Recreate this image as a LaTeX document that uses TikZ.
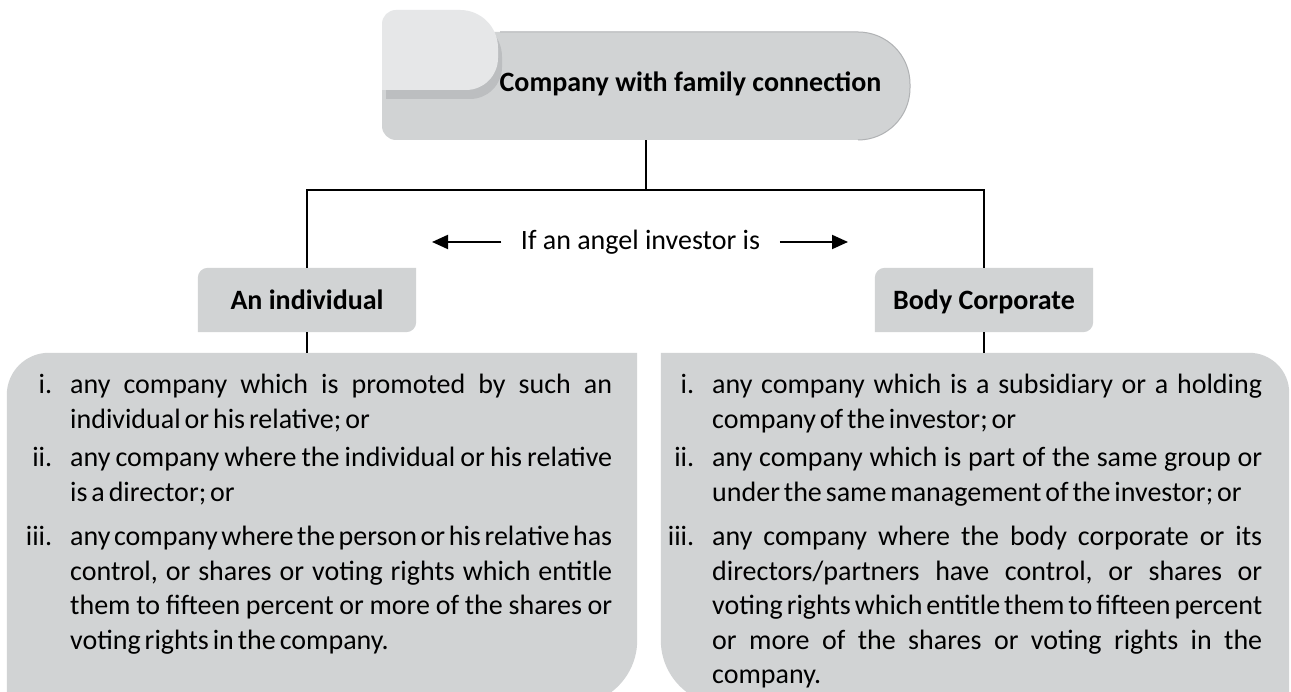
\documentclass[tikz,border=0pt]{standalone}
\usepackage{fontspec}
\setmainfont{Carlito}
\usetikzlibrary{arrows.meta}
\pgfdeclarelayer{background}
\pgfdeclarelayer{paper}
\pgfsetlayers{paper,background,main}
\definecolor{boxgray}{HTML}{D1D3D4}
\definecolor{eargray}{HTML}{E6E7E8}
\definecolor{shadowgray}{HTML}{BCBEC0}
\definecolor{edgegray}{HTML}{B0B2B4}
\frenchspacing
\newcommand{\fullln}[1]{\hbox to \hsize{\spaceskip=0.14em plus 3em minus 0.06em\relax #1}}
\newcommand{\lastln}[1]{\hbox{\spaceskip=0.14em\relax #1}}
\newcommand{\itm}[3]{\hbox{\hbox to 0pt{\hss #1\hskip 18pt}\vtop{\hsize=#2\relax\baselineskip=34.5pt\relax\lineskiplimit=-100pt\relax #3}}}
\tikzset{
  every node/.style={font=\fontsize{28pt}{34.5pt}\selectfont},
  conn/.style={line width=2pt, black},
  arr/.style={line width=2pt, black, -{Triangle[length=16pt,width=14pt]}},
  lblbox/.style={minimum width=218pt, minimum height=64pt, inner sep=0pt, text height=20pt, text depth=0pt, font=\fontsize{28pt}{34.5pt}\selectfont\bfseries},
  itembox/.style={anchor=base west, inner sep=0pt},
  areabox/.style={inner sep=0pt, minimum height=352pt}
}
\begin{document}
\begin{tikzpicture}[x=1pt,y=1pt]
\useasboundingbox (0,0) rectangle (1291,692);
\begin{pgfonlayer}{paper}
\fill[white] (0,0) rectangle (1291,692);
\end{pgfonlayer}

% ---- top box ----
\node[inner sep=0pt, minimum width=528pt, minimum height=108pt] (topb) at (646,606) {};
\node[anchor=base, font=\fontsize{28pt}{34.5pt}\selectfont\bfseries] (title) at (690.5,600) {Company with family connection};
\begin{pgfonlayer}{background}
  \fill[boxgray] (382,660) -- (858,660) arc[start angle=90,end angle=0,radius=52] -- (910,604) arc[start angle=0,end angle=-90,radius=52] -- (396,552) arc[start angle=270,end angle=180,radius=14] -- cycle;
  \draw[edgegray, line width=1pt] (500,660) -- (858,660) arc[start angle=90,end angle=0,radius=52] -- (910,604) arc[start angle=0,end angle=-90,radius=52];
  \begin{scope}
    \clip (382,660) -- (858,660) arc[start angle=90,end angle=0,radius=52] -- (910,604) arc[start angle=0,end angle=-90,radius=52] -- (396,552) arc[start angle=270,end angle=180,radius=14] -- cycle;
    \fill[shadowgray] (386,593) -- (386,659) arc[start angle=180,end angle=90,radius=14] -- (464,673) arc[start angle=90,end angle=0,radius=38] -- (502,625) arc[start angle=0,end angle=-90,radius=32] -- cycle;
  \end{scope}
  \fill[eargray] (382,602) -- (382,668) arc[start angle=180,end angle=90,radius=14] -- (460,682) arc[start angle=90,end angle=0,radius=38] -- (498,634) arc[start angle=0,end angle=-90,radius=32] -- cycle;
\end{pgfonlayer}

% ---- hub and question ----
\coordinate (hub) at (646,502);
\node[inner xsep=19.5pt, inner ysep=0pt] (q) at (640.5,450) {If an angel investor is};
\coordinate (la) at (432,450);
\coordinate (ra) at (848,450);
\draw[arr] (q.west) -- (la);
\draw[arr] (q.east) -- (ra);

% ---- label boxes ----
\node[lblbox] (ind) at (307,392) {An individual};
\node[lblbox] (bc) at (984,392) {Body Corporate};
\begin{pgfonlayer}{background}
  \foreach \n in {ind,bc}{
    \fill[boxgray] (\n.south west) -- ([yshift=-10pt]\n.north west) arc[start angle=180,end angle=90,radius=10] -- (\n.north east) -- ([yshift=10pt]\n.south east) arc[start angle=0,end angle=-90,radius=10] -- cycle;
  }
\end{pgfonlayer}

% ---- content areas ----
\node[areabox, minimum width=630pt] (lc) at (322,163) {};
\node[areabox, minimum width=628pt] (rc) at (975,163) {};
\begin{pgfonlayer}{background}
  \fill[boxgray] (lc.south west) -- ([yshift=-42pt]lc.north west) arc[start angle=180,end angle=90,radius=42] -- (lc.north east) -- ([yshift=65pt]lc.south east) arc[start angle=0,end angle=-90,radius=65] -- cycle;
  \fill[boxgray] ([yshift=65pt]rc.south west) -- (rc.north west) -- ([xshift=-40pt]rc.north east) arc[start angle=90,end angle=0,radius=40] -- (rc.south east) -- ([xshift=65pt]rc.south west) arc[start angle=270,end angle=180,radius=65] -- cycle;
\end{pgfonlayer}

% ---- connectors ----
\draw[conn] (topb.south) -- (hub);
\draw[conn] (ind.north) -- (ind.north |- hub) -- (bc.north |- hub) -- (bc.north);
\draw[conn] (ind.south) -- (ind.south |- lc.north);
\draw[conn] (bc.south) -- (bc.south |- rc.north);

% ---- left items ----
\node[itembox] (li1) at (70,298) {\itm{i.}{542pt}{\fullln{any company which is promoted by such an}\lastln{individual or his relative; or}}};
\node[itembox] (li2) at (70,225) {\itm{ii.}{542pt}{\fullln{any company where the individual or his relative}\lastln{is a director; or}}};
\node[itembox] (li3) at (70,146) {\itm{iii.}{542pt}{\fullln{any company where the person or his relative has}\fullln{control, or shares or voting rights which entitle}\fullln{them to fifteen percent or more of the shares or}\lastln{voting rights in the company.}}};

% ---- right items ----
\node[itembox] (ri1) at (712,298) {\itm{i.}{550pt}{\fullln{any company which is a subsidiary or a holding}\lastln{company of the investor; or}}};
\node[itembox] (ri2) at (712,225) {\itm{ii.}{550pt}{\fullln{any company which is part of the same group or}\lastln{under the same management of the investor; or}}};
\node[itembox] (ri3) at (712,146) {\itm{iii.}{550pt}{\fullln{any company where the body corporate or its}\fullln{directors/partners have control, or shares or}\fullln{voting rights which entitle them to fifteen percent}\fullln{or more of the shares or voting rights in the}\lastln{company.}}};
\end{tikzpicture}
\end{document}
